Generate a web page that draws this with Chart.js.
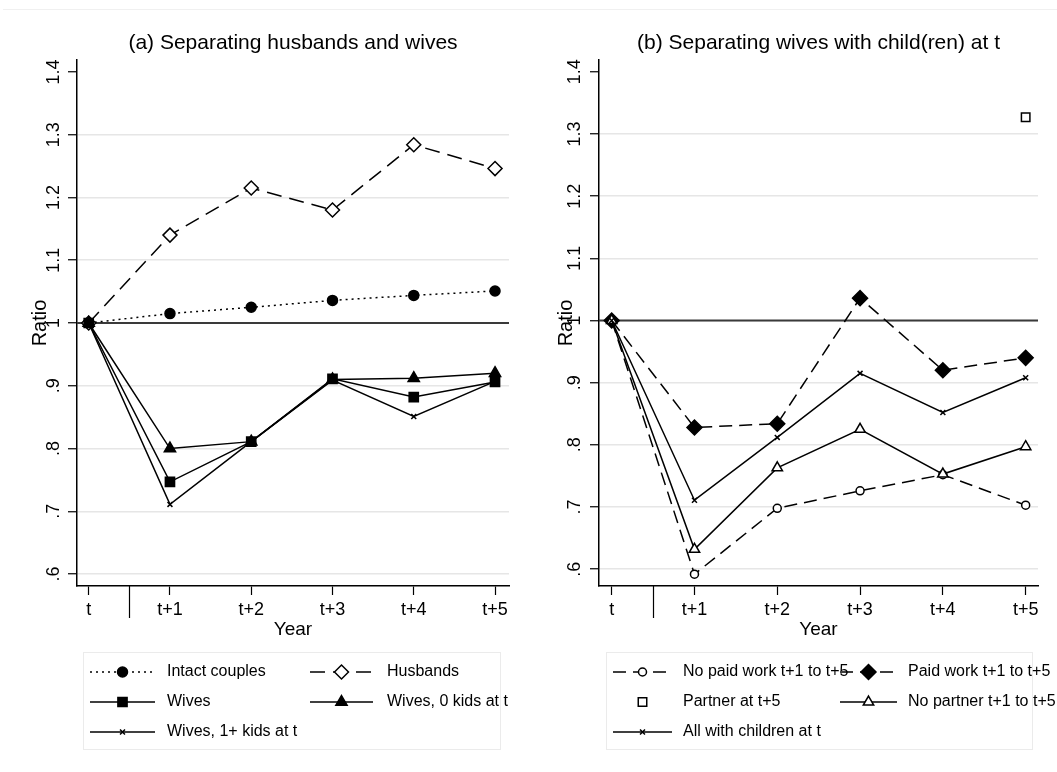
<!DOCTYPE html>
<html><head><meta charset="utf-8">
<script src="https://cdn.jsdelivr.net/npm/chart.js@4/dist/chart.umd.min.js"></script>
<style>
html,body{margin:0;padding:0;background:#fff;}
#wrap{position:relative;width:1057px;height:772px;overflow:hidden;background:#fff;}
#topline{position:absolute;left:3px;right:0;top:9px;height:1px;background:#f0f0f0;}
.panel{position:absolute;top:0;height:772px;}
#pa{left:0;width:529px;}
#pb{left:529px;width:528px;}
canvas{display:block;}
</style></head><body>
<div id="wrap"><div id="topline"></div>
<div class="panel" id="pa"><canvas id="ca" width="529" height="772"></canvas></div>
<div class="panel" id="pb"><canvas id="cb" width="528" height="772"></canvas></div>
</div>
<script>
// ---- data ----
const categories = ['t','t+1','t+2','t+3','t+4','t+5'];
const yTickValues = [0.6,0.7,0.8,0.9,1.0,1.1,1.2,1.3,1.4];
const yTickLabels = ['.6','.7','.8','.9','1','1.1','1.2','1.3','1.4'];

// Panel (a)
const titleA = '(a) Separating husbands and wives';
const intactCouples = [1.000,1.015,1.025,1.036,1.044,1.051];
const husbands      = [1.000,1.140,1.215,1.180,1.284,1.246];
const wives         = [1.000,0.747,0.811,0.911,0.882,0.906];
const wives0Kids    = [1.000,0.800,0.811,0.910,0.912,0.920];
const wives1Kids    = [1.000,0.711,0.811,0.909,0.851,0.907];

// Panel (b)
const titleB = '(b) Separating wives with child(ren) at t';
const noPaidWork      = [1.000,0.592,0.698,0.726,0.752,0.703];
const paidWork        = [1.000,0.828,0.834,1.036,0.920,0.940];
const partnerAtT5     = [null,null,null,null,null,1.327];
const noPartner       = [1.000,0.632,0.763,0.825,0.753,0.797];
const allWithChildren = [1.000,0.711,0.812,0.915,0.852,0.908];

const FONT = '"Liberation Sans", Arial, Helvetica, sans-serif';
Chart.defaults.font.family = FONT;
Chart.defaults.color = '#000';

function pts(values){
  const out = [];
  values.forEach((v,i)=>{ if(v!==null) out.push({x:i,y:v}); });
  return out;
}

function makeDataset(label, values, st, i, n){
  return {
    label: label,
    data: pts(values),
    showLine: st.line !== false,
    borderColor: '#000',
    borderWidth: 1.5,
    borderDash: st.dash || [],
    pointStyle: st.style,
    pointRadius: st.r,
    pointHoverRadius: st.r,
    pointBackgroundColor: st.filled ? '#000' : '#fff',
    pointBorderColor: '#000',
    pointBorderWidth: 1.5,
    tension: 0,
    order: n - i,
    clip: false
  };
}

const legendPlugin = {
  id: 'panelLegend',
  afterDraw(chart, args, L){
    const ctx = chart.ctx;
    ctx.save();
    ctx.strokeStyle = '#ebebeb'; ctx.lineWidth = 1; ctx.setLineDash([]);
    ctx.strokeRect(L.box[0]+0.5, L.box[1]+0.5, L.box[2]-L.box[0], L.box[3]-L.box[1]);
    chart.data.datasets.forEach((ds,k)=>{
      const col = L.cols[k%2], y = L.rows[Math.floor(k/2)];
      if (ds.showLine !== false){
        ctx.beginPath();
        ctx.setLineDash(ds.borderDash || []);
        ctx.lineWidth = ds.borderWidth; ctx.strokeStyle = ds.borderColor;
        ctx.moveTo(col.x1, y); ctx.lineTo(col.x2, y); ctx.stroke();
      }
      ctx.setLineDash([]);
      ctx.fillStyle = ds.pointBackgroundColor; ctx.strokeStyle = ds.pointBorderColor;
      ctx.lineWidth = ds.pointBorderWidth;
      Chart.helpers.drawPoint(ctx, {pointStyle: ds.pointStyle, radius: ds.pointRadius, rotation: 0, borderWidth: ds.pointBorderWidth}, (col.x1+col.x2)/2, y);
    });
    ctx.fillStyle = '#000'; ctx.font = '16px ' + FONT; ctx.textBaseline = 'middle'; ctx.textAlign = 'left';
    chart.data.datasets.forEach((ds,k)=>{
      const col = L.cols[k%2], y = L.rows[Math.floor(k/2)];
      ctx.fillText(ds.label, col.tx, y);
    });
    ctx.restore();
  }
};

const refPlugin = {
  id: 'refLine',
  beforeDatasetsDraw(chart, args, o){
    const ctx = chart.ctx, a = chart.chartArea;
    const y = chart.scales.y.getPixelForValue(o.value);
    ctx.save(); ctx.strokeStyle = '#3a3a3a'; ctx.lineWidth = 2; ctx.setLineDash([]);
    ctx.beginPath(); ctx.moveTo(a.left, y); ctx.lineTo(a.right, y); ctx.stroke(); ctx.restore();
  },
  afterDraw(chart, args, o){
    const ctx = chart.ctx, a = chart.chartArea;
    const x = Math.round(chart.scales.x.getPixelForValue(o.sep)) + 0.5;
    ctx.save(); ctx.strokeStyle = '#000'; ctx.lineWidth = 1.2;
    ctx.beginPath(); ctx.moveTo(x, a.bottom); ctx.lineTo(x, a.bottom + o.sepLen); ctx.stroke(); ctx.restore();
  }
};

function makePanel(id, cfg){
  const n = cfg.series.length;
  const datasets = cfg.series.map((s,i)=>makeDataset(s.label, s.values, s.st, i, n));
  return new Chart(document.getElementById(id), {
    type: 'line',
    data: { datasets },
    plugins: [refPlugin, legendPlugin],
    options: {
      responsive: false,
      animation: false,
      events: [],
      layout: { padding: { left: 0, right: cfg.rightPad, top: 0, bottom: 0 } },
      plugins: {
        legend: { display: false },
        tooltip: { enabled: false },
        title: { display: true, text: cfg.title, fullSize: false, color: '#000',
                 font: { size: 21, weight: 'normal' }, padding: { top: 30.4, bottom: 4.4 } },
        refLine: { value: 1, sep: 0.5, sepLen: 32 },
        panelLegend: cfg.legend
      },
      scales: {
        x: {
          type: 'linear', min: cfg.xMin, max: cfg.xMax,
          afterBuildTicks: s => { s.ticks = categories.map((c,i)=>({value:i})); },
          afterFit: s => { s.height = 186; },
          ticks: { callback: v => categories[v], font: { size: 18 }, color: '#000',
                   padding: 4, autoSkip: false, minRotation: 0, maxRotation: 0 },
          grid: { drawOnChartArea: false, tickLength: 9, tickColor: '#000', tickWidth: 1.2 },
          border: { color: '#000', width: 1.5 },
          title: { display: true, text: 'Year', color: '#000', font: { size: 19 }, padding: { top: 0, bottom: 131 } }
        },
        y: {
          type: 'linear', min: cfg.yMin, max: cfg.yMax,
          afterBuildTicks: s => { s.ticks = yTickValues.map(v=>({value:v})); },
          afterFit: s => { s.width = cfg.yAxisWidth; },
          ticks: { callback: v => yTickLabels[yTickValues.indexOf(v)], font: { size: 18 }, color: '#000',
                   minRotation: 90, maxRotation: 90, crossAlign: 'center', padding: cfg.yTickPad, autoSkip: false },
          grid: { color: c => (c.tick && c.tick.value === 1.4) ? 'rgba(0,0,0,0)' : '#e6e6e6',
                  lineWidth: 1.5, tickLength: 9, tickColor: '#000', tickWidth: 1.2 },
          border: { color: '#000', width: 1.5 },
          title: { display: true, text: 'Ratio', color: '#000', font: { size: 20 }, padding: { top: cfg.ratioPad, bottom: 0 } }
        }
      }
    }
  });
}

makePanel('ca', {
  title: titleA,
  rightPad: 20, yAxisWidth: 77, yTickPad: 1, ratioPad: 28.5,
  xMin: -0.144, xMax: 5.172, yMin: 0.581, yMax: 1.419,
  series: [
    { label: 'Intact couples', values: intactCouples, st: { dash: [2,4], style: 'circle', r: 5, filled: true } },
    { label: 'Husbands', values: husbands, st: { dash: [15,8], style: 'rectRot', r: 7, filled: false } },
    { label: 'Wives', values: wives, st: { style: 'rect', r: 6.5, filled: true } },
    { label: 'Wives, 0 kids at t', values: wives0Kids, st: { style: 'triangle', r: 6.5, filled: true } },
    { label: 'Wives, 1+ kids at t', values: wives1Kids, st: { style: 'crossRot', r: 3.5, filled: true } }
  ],
  legend: { box: [83, 652, 500, 749], rows: [672, 702, 732],
            cols: [ { x1: 90, x2: 155, tx: 167 }, { x1: 310, x2: 373, tx: 387 } ] }
});

makePanel('cb', {
  title: titleB,
  rightPad: 19, yAxisWidth: 70, yTickPad: 2, ratioPad: 25.5,
  xMin: -0.153, xMax: 5.149, yMin: 0.573, yMax: 1.419,
  series: [
    { label: 'No paid work t+1 to t+5', values: noPaidWork, st: { dash: [13,7], style: 'circle', r: 4, filled: false } },
    { label: 'Paid work t+1 to t+5', values: paidWork, st: { dash: [13,7], style: 'rectRot', r: 7.5, filled: true } },
    { label: 'Partner at t+5', values: partnerAtT5, st: { line: false, style: 'rect', r: 6, filled: false } },
    { label: 'No partner t+1 to t+5', values: noPartner, st: { style: 'triangle', r: 6, filled: false } },
    { label: 'All with children at t', values: allWithChildren, st: { style: 'crossRot', r: 3.5, filled: true } }
  ],
  legend: { box: [77, 652, 503, 749], rows: [672, 702, 732],
            cols: [ { x1: 84, x2: 143, tx: 154 }, { x1: 311, x2: 368, tx: 379 } ] }
});
</script>
</body></html>
